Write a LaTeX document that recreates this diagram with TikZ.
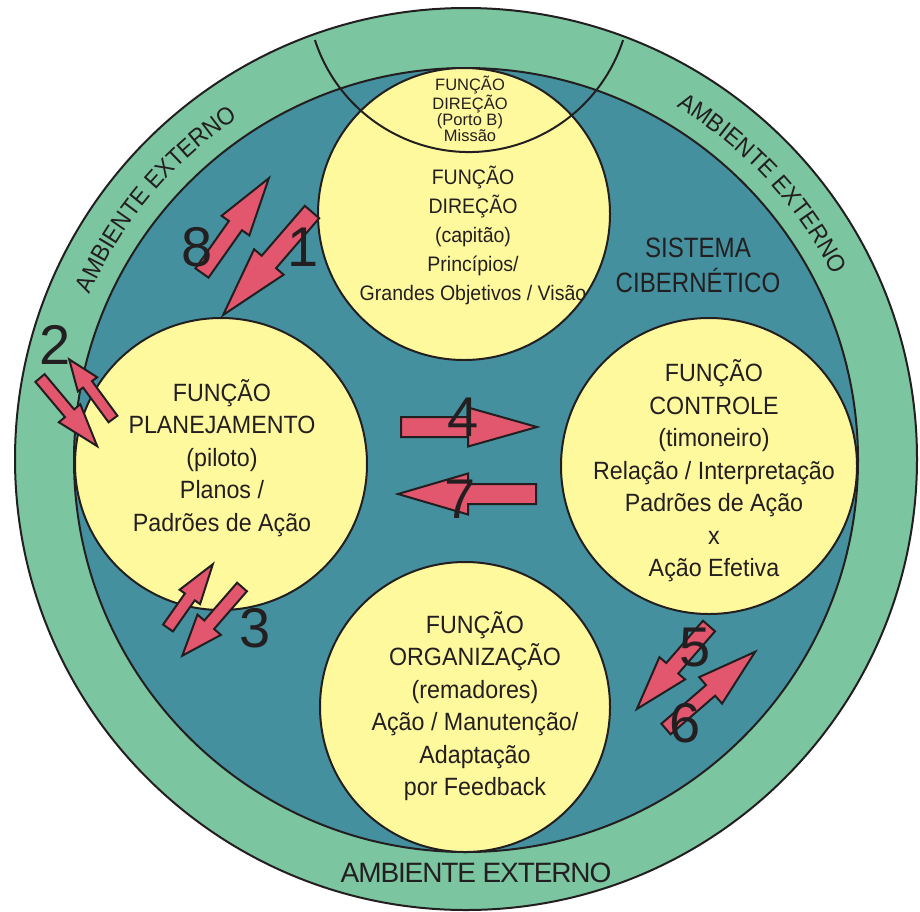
\documentclass[tikz,border=0pt]{standalone}
\usepackage{fontspec}
\setmainfont{Liberation Sans}
\newfontfamily\bodyf{Liberation Sans}[FakeStretch=0.93]
\newfontfamily\sysf{Liberation Sans}[FakeStretch=0.86]
\newfontfamily\ambf{Liberation Sans}[LetterSpace=-4]
\newfontfamily\plainf{Liberation Sans}
\usetikzlibrary{decorations.text}
\definecolor{ringgreen}{RGB}{123,198,160}
\definecolor{tealc}{RGB}{69,144,158}
\definecolor{yel}{RGB}{255,249,158}
\definecolor{pinkc}{RGB}{226,86,110}
\definecolor{ink}{RGB}{35,31,32}
\newcommand\blockarr[6]{%
  \begin{scope}[shift={#1},rotate=#2]
    \draw[arrowbody] (0,{-#4/2}) -- ({#3-#6},{-#4/2}) -- ({#3-#6},{-#5/2}) -- (#3,0)
      -- ({#3-#6},{#5/2}) -- ({#3-#6},{#4/2}) -- (0,{#4/2}) -- cycle;
  \end{scope}}
\tikzset{
  ringdisk/.style={circle, draw=ink, line width=2pt, fill=ringgreen, inner sep=0pt},
  tealdisk/.style={circle, draw=ink, line width=2pt, fill=tealc, inner sep=0pt},
  yeldisk/.style={circle, draw=ink, line width=2pt, fill=yel, inner sep=0pt},
  arrowbody/.style={draw=ink, fill=pinkc, line width=2pt, line join=miter},
  bodytext/.style={align=center, text=ink, inner sep=0pt, font=\fontsize{25}{32.5}\bodyf},
  dirtext/.style={align=center, text=ink, inner sep=0pt, font=\fontsize{21}{29}\bodyf},
  lenstext/.style={align=center, text=ink, inner sep=0pt, font=\fontsize{16.5}{16}\plainf},
  systext/.style={align=center, text=ink, inner sep=0pt, font=\fontsize{28}{35}\sysf},
  num/.style={text=ink, inner sep=0pt, font=\fontsize{56}{56}\plainf},
  ambtext/.style={text=ink, inner sep=0pt, font=\fontsize{28}{28}\ambf}
}
\begin{document}
\begin{tikzpicture}[x=1pt,y=-1pt]
\useasboundingbox (0,0) rectangle (920,911);
% rings
\node[ringdisk, minimum size=902pt] (outer) at (466,459) {};
\node[tealdisk, minimum size=784pt] (inner) at (466,460) {};
% function circles
\node[yeldisk, minimum size=292pt] (dir) at (464,214) {};
\node[yeldisk, minimum size=292pt] (plan) at (221,464) {};
\node[yeldisk, minimum size=296pt] (ctrl) at (709,466) {};
\node[yeldisk, minimum size=290pt] (org) at (465,707) {};
% lens arc (Porto B)
\draw[ink, line width=2pt] (469,-10) ++(162:162) arc[start angle=162, end angle=18, radius=162];
% curved labels
\path[decorate, decoration={text along path, text align=center,
  text={|\fontsize{24.5}{24.5}\bodyf\color{ink}|AMBIENTE EXTERNO}}]
  (466,460) ++(-166:411) arc[start angle=-166, end angle=-114, radius=411];
\path[decorate, decoration={text along path, text align=center,
  text={|\fontsize{24.5}{24.5}\bodyf\color{ink}|AMBIENTE EXTERNO}}]
  (466,460) ++(-69:411) arc[start angle=-69, end angle=-17, radius=411];
\node[ambtext, anchor=base] (ambb) at (476,882) {AMBIENTE EXTERNO};
% texts
\node[lenstext] (lens) at (470,109) {FUNÇÃO\\DIREÇÃO\\(Porto B)\\Missão};
\node[dirtext] (dirtxt) at (473,235) {FUNÇÃO\\DIREÇÃO\\(capitão)\\Princípios/\\Grandes Objetivos / Visão};
\node[systext] (sys) at (698,265) {SISTEMA\\CIBERNÉTICO};
\node[bodytext] (plantxt) at (222,458) {FUNÇÃO\\PLANEJAMENTO\\(piloto)\\Planos /\\Padrões de Ação};
\node[bodytext] (ctrltxt) at (714,471) {FUNÇÃO\\CONTROLE\\(timoneiro)\\Relação / Interpretação\\Padrões de Ação\\x\\Ação Efetiva};
\node[bodytext] (orgtxt) at (475,706) {FUNÇÃO\\ORGANIZAÇÃO\\(remadores)\\Ação / Manutenção/\\Adaptação\\por Feedback};
% block arrows: tail, angle, length, shaft, head, head length
\blockarr{(202,273)}{54.8}{116}{16}{34}{58}
\blockarr{(312,212)}{229.2}{136}{19}{39}{70}
\blockarr{(40,378)}{-50}{89}{12}{28}{43}
\blockarr{(113,419)}{126.3}{74}{11}{24}{31}
\blockarr{(168,628)}{54.9}{78}{12}{25}{40}
\blockarr{(242,587)}{229}{91}{13}{31}{41}
\blockarr{(401,427)}{0}{136}{20}{39}{69}
\blockarr{(536,494)}{180}{138}{20}{41}{70}
\blockarr{(709,626)}{229}{110}{16}{34}{54}
\blockarr{(666,729)}{40.9}{118}{14}{35}{59}
% numbers
\node[num] (n8) at (197,247) {8};
\node[num] (n1) at (303,247) {1};
\node[num] (n2) at (55,345) {2};
\node[num] (n3) at (255,628) {3};
\node[num] (n4) at (463,417) {4};
\node[num] (n7) at (460,499) {7};
\node[num] (n5) at (695,647) {5};
\node[num] (n6) at (685,723) {6};
\end{tikzpicture}
\end{document}
